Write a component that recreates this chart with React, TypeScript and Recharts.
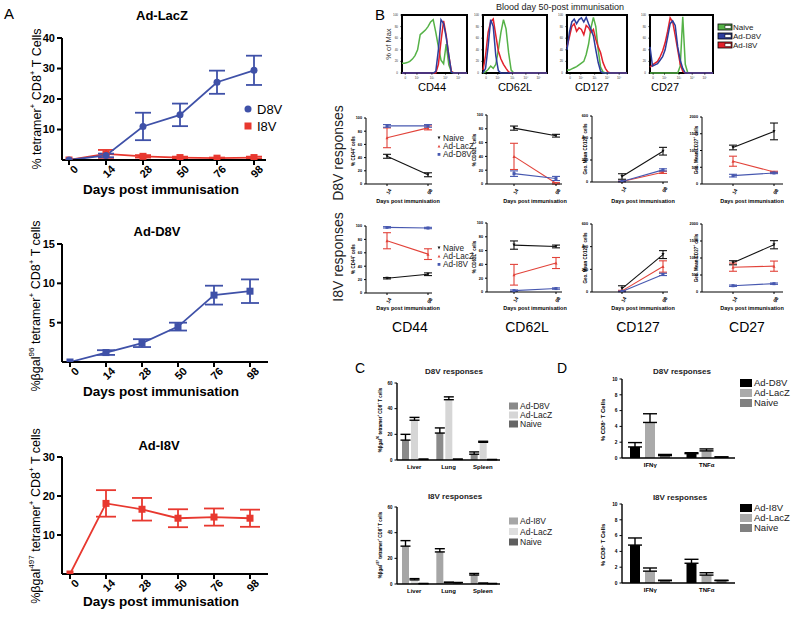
import React from 'react';
import { LineChart, Line, BarChart, Bar, XAxis, YAxis, ErrorBar, ReferenceArea } from 'recharts';

const FONT = '"Liberation Sans", Arial, Helvetica, sans-serif';

// ---------- Panel A: tetramer+ time courses ----------
const aDays = ['0', '14', '28', '50', '76', '98'];
const lacZD8V = [0, 1.5, 11.0, 14.8, 25.5, 29.4];
const lacZD8VErr = [0, 0.6, 4.5, 3.7, 3.8, 4.8];
const lacZI8V = [0, 2.0, 1.2, 0.8, 0.6, 0.8];
const lacZI8VErr = [0, 1.3, 0.4, 0.3, 0.2, 0.3];
const adD8V = [0, 1.2, 2.4, 4.5, 8.5, 9.0];
const adD8VErr = [0, 0.3, 0.5, 0.5, 1.2, 1.5];
const adI8V = [0, 18.1, 16.6, 14.3, 14.6, 14.3];
const adI8VErr = [0, 3.4, 2.9, 2.3, 2.2, 2.2];

// ---------- Panel B: histograms (x = position along axis, y = % of max) ----------
const histBins = [0, 4, 8, 12, 16, 20, 24, 28, 32, 36, 40, 44, 48, 52, 56, 60, 64, 68, 72, 76, 80, 84, 88, 92, 96, 100];
const histXTicks = [5, 23, 46, 67, 87];
const histXLabels = ['0', '10²', '10³', '10⁴', '10⁵'];
const histCd44Naive = [17, 17, 18, 20, 24, 30, 40, 66, 70, 74, 80, 88, 92, 70, 45, 22, 16, 50, 14, 2, 0, 0, 0, 0, 0, 0];
const histCd44D8V = [0, 0, 0, 0, 0, 0, 0, 0, 0, 0, 0, 0, 0, 3, 40, 92, 85, 62, 30, 1, 0, 0, 0, 0, 0, 0];
const histCd44I8V = [0, 0, 0, 0, 0, 0, 0, 0, 0, 0, 0, 0, 0, 0, 15, 55, 90, 65, 30, 3, 0, 0, 0, 0, 0, 0];
const histCd62lNaive = [0, 2, 6, 12, 8, 15, 40, 70, 92, 76, 35, 5, 0, 0, 0, 0, 0, 0, 0, 0, 0, 0, 0, 0, 0, 0];
const histCd62lD8V = [0, 8, 46, 92, 80, 30, 4, 0, 0, 0, 0, 0, 0, 0, 0, 0, 0, 0, 0, 0, 0, 0, 0, 0, 0, 0];
const histCd62lI8V = [5, 30, 70, 88, 93, 65, 38, 24, 15, 8, 2, 0, 0, 0, 0, 0, 0, 0, 0, 0, 0, 0, 0, 0, 0, 0];
const histCd127Naive = [5, 5, 7, 9, 11, 14, 17, 20, 32, 50, 78, 96, 80, 40, 10, 2, 0, 0, 0, 0, 0, 0, 0, 0, 0, 0];
const histCd127D8V = [40, 70, 88, 93, 85, 92, 95, 88, 96, 85, 75, 64, 40, 18, 3, 0, 0, 0, 0, 0, 0, 0, 0, 0, 0, 0];
const histCd127I8V = [45, 62, 80, 85, 72, 78, 75, 66, 82, 78, 70, 75, 58, 45, 35, 18, 8, 2, 0, 0, 0, 0, 0, 0, 0, 0];
const histCd27Naive = [0, 0, 0, 0, 0, 0, 0, 0, 0, 0, 0, 0, 12, 97, 15, 0, 0, 0, 0, 0, 0, 0, 0, 0, 0, 0];
const histCd27D8V = [45, 12, 14, 16, 22, 28, 40, 62, 85, 90, 82, 45, 22, 8, 0, 0, 0, 0, 0, 0, 0, 0, 0, 0, 0, 0];
const histCd27I8V = [10, 14, 17, 20, 28, 38, 52, 72, 95, 88, 65, 40, 15, 3, 0, 0, 0, 0, 0, 0, 0, 0, 0, 0, 0, 0];

// ---------- Panel B: day 14 / day 98 phenotype (rows: Naive, Ad-LacZ, vaccine) ----------
const bDays = ['14', '98'];
const cd44D8V = [[42, 14], [70, 85], [88, 88]];
const cd44D8VErr = [[3, 3], [15, 3], [2, 2]];
const cd62lD8V = [[81, 70], [40, 1], [15, 8]];
const cd62lD8VErr = [[3, 2], [19, 1], [4, 3]];
const cd127D8V = [[50, 280], [5, 88], [5, 110]];
const cd127D8VErr = [[25, 35], [3, 10], [3, 10]];
const cd27D8V = [[1090, 1570], [680, 360], [250, 330]];
const cd27D8VErr = [[70, 250], [150, 20], [40, 20]];
const cd44I8V = [[22, 28], [78, 58], [98, 97]];
const cd44I8VErr = [[1, 2], [12, 8], [1, 1]];
const cd62lI8V = [[68, 66], [25, 42], [2, 5]];
const cd62lI8VErr = [[6, 2], [15, 8], [1, 1]];
const cd127I8V = [[30, 330], [10, 225], [5, 155]];
const cd127I8VErr = [[25, 35], [5, 50], [3, 10]];
const cd27I8V = [[860, 1390], [730, 760], [185, 245]];
const cd27I8VErr = [[60, 120], [120, 150], [20, 20]];

// ---------- Panel C: organs (rows: vaccine, Ad-LacZ, Naive) ----------
const organs = ['Liver', 'Lung', 'Spleen'];
const cD8V = [[15.5, 21, 4.5], [31, 47, 13.8], [0.5, 0.5, 0.3]];
const cD8VErr = [[4.5, 4, 1.8], [2.2, 2.2, 0.8], [0.2, 0.2, 0.1]];
const cI8V = [[29.5, 25, 7], [3.2, 1, 0.5], [0.3, 1, 0.3]];
const cI8VErr = [[4.3, 2.5, 1.2], [1, 0.5, 0.2], [0.1, 0.2, 0.1]];

// ---------- Panel D: cytokines (rows: vaccine, Ad-LacZ, Naive) ----------
const cytokines = ['IFNγ', 'TNFα'];
const dD8V = [[1.4, 0.55], [4.5, 0.9], [0.3, 0.1]];
const dD8VErr = [[0.55, 0.12], [1.1, 0.25], [0.15, 0.05]];
const dI8V = [[4.8, 2.5], [1.5, 1.0], [0.3, 0.3]];
const dI8VErr = [[0.9, 0.5], [0.4, 0.3], [0.05, 0.05]];

const BLUE = '#3f51a8';
const RED = '#e8382f';
const BLK = '#111';
const BRED = '#e2433a';
const BBLUE = '#4758b0';
const HGREEN = '#55b247';
const HBLUE = '#2d3d9c';
const HRED = '#e2202b';

type Rect = { x0: number; y0: number; x1: number; y1: number };

function box(r: Rect, yw: number, xh: number, mt: number, mr: number) {
  return {
    position: 'absolute' as const,
    left: r.x0 - yw,
    top: r.y0 - mt,
    width: yw + r.x1 - r.x0 + mr,
    height: mt + r.y1 - r.y0 + xh,
  };
}

const mark = (shape: string, color: string, s: number) => (p: any) => {
  const { cx, cy, index } = p;
  const k = `m${index}`;
  if (cx == null || cy == null) return <g key={k} />;
  if (shape === 'circle') return <circle key={k} cx={cx} cy={cy} r={s} fill={color} />;
  if (shape === 'square') return <rect key={k} x={cx - s} y={cy - s} width={2 * s} height={2 * s} fill={color} />;
  if (shape === 'up') return <path key={k} d={`M${cx},${cy - s}L${cx + s},${cy + s}L${cx - s},${cy + s}Z`} fill={color} />;
  return <path key={k} d={`M${cx - s},${cy - s}L${cx + s},${cy - s}L${cx},${cy + s}Z`} fill={color} />;
};

type Series = { values: number[]; errs: number[]; color: string; shape: string };

function TrendChart(props: {
  rect: Rect; cats: string[]; domain: [number, number]; ticks: number[]; series: Series[];
  padL: number; padR: number; axisW: number; tickFs: number; xTickFs: number; angle: number;
  tickLen: number; capW: number; dotR: number; lineW: number; yw: number; xh: number;
  tdx: number; tdy: number;
}) {
  const { rect, cats, series } = props;
  const mt = 6, mr = 6;
  const st = box(rect, props.yw, props.xh, mt, mr);
  const data = cats.map((c, i) => {
    const row: any = { cat: c };
    series.forEach((s, j) => { row['v' + j] = s.values[i]; row['e' + j] = s.errs[i]; });
    return row;
  });
  const xTick = (p: any) => {
    const x = p.x + props.tdx, y = p.y + props.tdy;
    return (
      <text x={x} y={y} transform={`rotate(${props.angle} ${x} ${y})`} textAnchor="end" dominantBaseline="central"
        fontSize={props.xTickFs} fontWeight="bold" fontFamily={FONT} fill="#000">{p.payload.value}</text>
    );
  };
  const ax = { stroke: '#000', strokeWidth: props.axisW };
  return (
    <div style={st}>
      <LineChart width={st.width} height={st.height} data={data} margin={{ top: mt, right: mr, left: 0, bottom: 0 }}>
        <XAxis dataKey="cat" interval={0} padding={{ left: props.padL, right: props.padR }} axisLine={ax} tickLine={ax}
          tickSize={props.tickLen} height={props.xh} tick={xTick} />
        <YAxis width={props.yw} domain={props.domain} ticks={props.ticks} interval={0} allowDataOverflow axisLine={ax}
          tickLine={ax} tickSize={props.tickLen}
          tick={{ fontSize: props.tickFs, fontWeight: 'bold', fill: '#000', fontFamily: FONT }} />
        {series.map((s, j) => (
          <Line key={j} type="linear" dataKey={'v' + j} stroke={s.color} strokeWidth={props.lineW}
            dot={mark(s.shape, s.color, props.dotR)} activeDot={false} isAnimationActive={false}>
            <ErrorBar dataKey={'e' + j} width={props.capW} stroke={s.color} strokeWidth={props.lineW} direction="y" isAnimationActive={false} />
          </Line>
        ))}
      </LineChart>
    </div>
  );
}

function Histogram({ rect, naive, d8v, i8v }: { rect: Rect; naive: number[]; d8v: number[]; i8v: number[] }) {
  const yw = 9, xh = 9, mt = 2, mr = 2;
  const st = box(rect, yw, xh, mt, mr);
  const data = histBins.map((b, i) => ({ x: b, n: naive[i], d: d8v[i], i: i8v[i] }));
  const tk = { fontSize: 3, fill: '#333', fontFamily: FONT };
  return (
    <div style={st}>
      <LineChart width={st.width} height={st.height} data={data} margin={{ top: mt, right: mr, left: 0, bottom: 0 }}>
        <XAxis dataKey="x" type="number" domain={[0, 100]} ticks={histXTicks} interval={0} height={xh}
          axisLine={false} tickLine={{ stroke: '#000', strokeWidth: 0.5 }} tickSize={2}
          tick={tk} tickFormatter={(v: number) => histXLabels[histXTicks.indexOf(v)]} />
        <YAxis width={yw} domain={[0, 100]} ticks={[0, 20, 40, 60, 80, 100]} interval={0} axisLine={false}
          tickLine={{ stroke: '#000', strokeWidth: 0.5 }} tickSize={2} tick={tk} />
        <Line type="linear" dataKey="n" stroke={HGREEN} strokeWidth={1.5} dot={false} activeDot={false} isAnimationActive={false} />
        <Line type="linear" dataKey="i" stroke={HRED} strokeWidth={1.5} dot={false} activeDot={false} isAnimationActive={false} />
        <Line type="linear" dataKey="d" stroke={HBLUE} strokeWidth={1.5} dot={false} activeDot={false} isAnimationActive={false} />
        <ReferenceArea x1={0} x2={100} y1={0} y2={100} fill="none" stroke="#000" strokeWidth={2} ifOverflow="visible" />
      </LineChart>
    </div>
  );
}

function BarPanel(props: {
  rect: Rect; cats: string[]; values: number[][]; errs: number[][]; colors: string[];
  domain: [number, number]; ticks: number[]; barSize: number; barGap: number; capW: number;
  tickFs: number; catFs: number;
}) {
  const yw = 14, xh = 12, mt = 6, mr = 4;
  const st = box(props.rect, yw, xh, mt, mr);
  const data = props.cats.map((c, i) => {
    const row: any = { cat: c };
    props.values.forEach((v, j) => { row['v' + j] = v[i]; row['e' + j] = [0, props.errs[j][i]]; });
    return row;
  });
  const ax = { stroke: '#000', strokeWidth: 1.4 };
  return (
    <div style={st}>
      <BarChart width={st.width} height={st.height} data={data} margin={{ top: mt, right: mr, left: 0, bottom: 0 }}
        barSize={props.barSize} barGap={props.barGap}>
        <XAxis dataKey="cat" interval={0} axisLine={ax} tickLine={false} tickSize={3} height={xh}
          tick={{ fontSize: props.catFs, fontWeight: 'bold', fill: '#000', fontFamily: FONT }} />
        <YAxis width={yw} domain={props.domain} ticks={props.ticks} interval={0} axisLine={ax}
          tickLine={{ stroke: '#000', strokeWidth: 1 }} tickSize={2.5}
          tick={{ fontSize: props.tickFs, fontWeight: 'bold', fill: '#000', fontFamily: FONT }} />
        {props.values.map((_, j) => (
          <Bar key={j} dataKey={'v' + j} fill={props.colors[j]} isAnimationActive={false}>
            <ErrorBar dataKey={'e' + j} width={props.capW} stroke="#000" strokeWidth={1.4} direction="y" isAnimationActive={false} />
          </Bar>
        ))}
      </BarChart>
    </div>
  );
}

// text with superscripts: parts alternate [text, isSup]
function Rich({ x, y, fs, bold, rot, parts, fill }: { x: number; y: number; fs: number; bold?: boolean; rot?: number; parts: [string, boolean][]; fill?: string }) {
  let shift = 0;
  return (
    <text x={x} y={y} fontSize={fs} fontWeight={bold ? 'bold' : 'normal'} textAnchor="middle" fontFamily={FONT}
      fill={fill || '#000'} transform={rot ? `rotate(${rot} ${x} ${y})` : undefined} dominantBaseline={rot ? 'central' : undefined}>
      {parts.map(([t, s], i) => {
        const target = s ? -fs * 0.4 : 0;
        const dy = target - shift;
        shift = target;
        return <tspan key={i} dy={dy} fontSize={s ? fs * 0.65 : fs}>{t}</tspan>;
      })}
    </text>
  );
}

const T = (p: { x: number; y: number; fs: number; bold?: boolean; anchor?: string; rot?: number; children: React.ReactNode; fill?: string }) => (
  <text x={p.x} y={p.y} fontSize={p.fs} fontWeight={p.bold ? 'bold' : 'normal'} textAnchor={(p.anchor || 'middle') as any}
    fontFamily={FONT} fill={p.fill || '#000'} transform={p.rot ? `rotate(${p.rot} ${p.x} ${p.y})` : undefined}
    dominantBaseline={p.rot ? 'central' : undefined}>{p.children}</text>
);

function SmallLegend({ x, y, names, colors, shapes }: { x: number; y: number; names: string[]; colors: string[]; shapes: string[] }) {
  return (
    <g>
      {names.map((n, i) => {
        const cy = y + i * 8.2;
        const cx = x;
        const s = 1.4;
        const shape = shapes[i];
        return (
          <g key={n}>
            {shape === 'square' ? <rect x={cx - s} y={cy - s} width={2 * s} height={2 * s} fill={colors[i]} />
              : shape === 'up' ? <path d={`M${cx},${cy - s}L${cx + s},${cy + s}L${cx - s},${cy + s}Z`} fill={colors[i]} />
                : <path d={`M${cx - s},${cy - s}L${cx + s},${cy - s}L${cx},${cy + s}Z`} fill={colors[i]} />}
            <text x={x + 4} y={cy + 3} fontSize={8.2} fontFamily={FONT} fill="#222">{n}</text>
          </g>
        );
      })}
    </g>
  );
}

function BoxLegend({ x, y, names, colors, fs, step, w, h }: { x: number; y: number; names: string[]; colors: string[]; fs: number; step: number; w: number; h: number }) {
  return (
    <g>
      {names.map((n, i) => (
        <g key={n}>
          <rect x={x} y={y + i * step - h / 2} width={w} height={h} fill={colors[i]} />
          <text x={x + w + 2} y={y + i * step + fs * 0.36} fontSize={fs} fontFamily={FONT} fill="#222">{n}</text>
        </g>
      ))}
    </g>
  );
}

function App() {
  const aCommon = { cats: aDays, axisW: 2, tickFs: 11, xTickFs: 11, angle: -45, tickLen: 5, dotR: 3.5, lineW: 1.8, yw: 30, xh: 30, tdx: 7, tdy: 0 };
  const bCommon = { cats: bDays, axisW: 1, tickFs: 3.8, xTickFs: 5, angle: -60, tickLen: 2, capW: 4, dotR: 1.5, lineW: 1.1, yw: 14, xh: 14, tdx: 3, tdy: 1 };
  const bSeries = (v: number[][], e: number[][]): Series[] => [
    { values: v[0], errs: e[0], color: BLK, shape: 'down' },
    { values: v[1], errs: e[1], color: BRED, shape: 'up' },
    { values: v[2], errs: e[2], color: BBLUE, shape: 'square' },
  ];
  const pct = [0, 20, 40, 60, 80, 100];
  const g127 = [0, 200, 400, 600];
  const g27 = [0, 500, 1000, 1500, 2000];

  return (
    <div style={{ position: 'absolute', left: 0, top: 0, width: 800, height: 617, background: '#fff', overflow: 'hidden', fontFamily: FONT }}>
      {/* Panel A */}
      <TrendChart {...aCommon} rect={{ x0: 62, y0: 38, x1: 266, y1: 160 }} domain={[0, 40]} ticks={[10, 20, 30, 40]}
        padL={7} padR={12} capW={8}
        series={[
          { values: lacZI8V, errs: lacZI8VErr, color: RED, shape: 'square' },
          { values: lacZD8V, errs: lacZD8VErr, color: BLUE, shape: 'circle' },
        ]} />
      <TrendChart {...aCommon} rect={{ x0: 62, y0: 244, x1: 268, y1: 362 }} domain={[0, 15]} ticks={[5, 10, 15]}
        padL={8} padR={18} capW={9}
        series={[{ values: adD8V, errs: adD8VErr, color: BLUE, shape: 'square' }]} />
      <TrendChart {...aCommon} rect={{ x0: 62, y0: 457, x1: 268, y1: 574 }} domain={[0, 30]} ticks={[10, 20, 30]}
        padL={8} padR={18} capW={10}
        series={[{ values: adI8V, errs: adI8VErr, color: RED, shape: 'square' }]} />

      {/* Panel B histograms */}
      <Histogram rect={{ x0: 402, y0: 15, x1: 467, y1: 73 }} naive={histCd44Naive} d8v={histCd44D8V} i8v={histCd44I8V} />
      <Histogram rect={{ x0: 483, y0: 15, x1: 547, y1: 73 }} naive={histCd62lNaive} d8v={histCd62lD8V} i8v={histCd62lI8V} />
      <Histogram rect={{ x0: 567, y0: 15, x1: 627, y1: 73 }} naive={histCd127Naive} d8v={histCd127D8V} i8v={histCd127I8V} />
      <Histogram rect={{ x0: 650, y0: 15, x1: 713, y1: 73 }} naive={histCd27Naive} d8v={histCd27D8V} i8v={histCd27I8V} />

      {/* Panel B phenotype, D8V row */}
      <TrendChart {...bCommon} rect={{ x0: 366, y0: 118, x1: 432, y1: 184 }} domain={[0, 100]} ticks={pct} padL={21} padR={4} series={bSeries(cd44D8V, cd44D8VErr)} />
      <TrendChart {...bCommon} rect={{ x0: 487, y0: 115, x1: 562, y1: 184 }} domain={[0, 100]} ticks={pct} padL={27} padR={6} series={bSeries(cd62lD8V, cd62lD8VErr)} />
      <TrendChart {...bCommon} rect={{ x0: 592, y0: 116, x1: 668, y1: 182 }} domain={[0, 600]} ticks={g127} padL={30} padR={5} series={bSeries(cd127D8V, cd127D8VErr)} />
      <TrendChart {...bCommon} rect={{ x0: 702, y0: 117, x1: 783, y1: 184 }} domain={[0, 2000]} ticks={g27} padL={31} padR={9} series={bSeries(cd27D8V, cd27D8VErr)} />
      {/* Panel B phenotype, I8V row */}
      <TrendChart {...bCommon} rect={{ x0: 366, y0: 226, x1: 432, y1: 293 }} domain={[0, 100]} ticks={pct} padL={21} padR={4} series={bSeries(cd44I8V, cd44I8VErr)} />
      <TrendChart {...bCommon} rect={{ x0: 487, y0: 223, x1: 562, y1: 292 }} domain={[0, 100]} ticks={pct} padL={27} padR={6} series={bSeries(cd62lI8V, cd62lI8VErr)} />
      <TrendChart {...bCommon} rect={{ x0: 592, y0: 224, x1: 668, y1: 292 }} domain={[0, 600]} ticks={g127} padL={30} padR={5} series={bSeries(cd127I8V, cd127I8VErr)} />
      <TrendChart {...bCommon} rect={{ x0: 702, y0: 224, x1: 783, y1: 292 }} domain={[0, 2000]} ticks={g27} padL={31} padR={9} series={bSeries(cd27I8V, cd27I8VErr)} />

      {/* Panel C */}
      <BarPanel rect={{ x0: 397, y0: 383, x1: 500, y1: 460 }} cats={organs} values={cD8V} errs={cD8VErr}
        colors={['#8a8a8a', '#d6d6d6', '#666666']} domain={[0, 60]} ticks={[0, 20, 40, 60]} barSize={7} barGap={2} capW={5} tickFs={4.5} catFs={6} />
      <BarPanel rect={{ x0: 397, y0: 507, x1: 500, y1: 584 }} cats={organs} values={cI8V} errs={cI8VErr}
        colors={['#a6a6a6', '#dedede', '#5e5e5e']} domain={[0, 60]} ticks={[0, 20, 40, 60]} barSize={7} barGap={2} capW={5} tickFs={4.5} catFs={6} />

      {/* Panel D */}
      <BarPanel rect={{ x0: 622, y0: 379, x1: 735, y1: 458 }} cats={cytokines} values={dD8V} errs={dD8VErr}
        colors={['#000000', '#aaaaaa', '#808080']} domain={[0, 10]} ticks={[0, 2, 4, 6, 8, 10]} barSize={10} barGap={5} capW={7} tickFs={4.8} catFs={6} />
      <BarPanel rect={{ x0: 622, y0: 504, x1: 735, y1: 583 }} cats={cytokines} values={dI8V} errs={dI8VErr}
        colors={['#000000', '#aaaaaa', '#808080']} domain={[0, 10]} ticks={[0, 2, 4, 6, 8, 10]} barSize={10} barGap={5} capW={7} tickFs={4.8} catFs={6} />

      {/* text and legends */}
      <svg width={800} height={617} style={{ position: 'absolute', left: 0, top: 0, pointerEvents: 'none' }}>
        {/* A */}
        <T x={4} y={19} fs={15} anchor="start">A</T>
        <T x={162} y={20} fs={13} bold>Ad-LacZ</T>
        <T x={157} y={236} fs={13} bold>Ad-D8V</T>
        <T x={159} y={450} fs={13} bold>Ad-I8V</T>
        {[194, 396, 606].map((y, i) => (
          <T key={i} x={161} y={y} fs={13.5} bold>Days post immunisation</T>
        ))}
        <Rich x={37} y={99} fs={12.5} rot={-90} parts={[['% tetramer', false], ['+', true], [' CD8', false], ['+', true], [' T Cells', false]]} />
        <Rich x={36} y={306} fs={12.5} rot={-90} parts={[['%βgal', false], ['96', true], [' tetramer', false], ['+', true], [' CD8', false], ['+', true], [' T cells', false]]} />
        <Rich x={36} y={516} fs={12.5} rot={-90} parts={[['%βgal', false], ['497', true], [' tetramer', false], ['+', true], [' CD8', false], ['+', true], [' T cells', false]]} />
        <circle cx={248} cy={109} r={3.5} fill={BLUE} />
        <T x={257} y={114} fs={13} anchor="start">D8V</T>
        <rect x={244.5} y={122.5} width={7} height={7} fill={RED} />
        <T x={257} y={131} fs={13} anchor="start">I8V</T>

        {/* B */}
        <T x={375} y={20} fs={15} anchor="start">B</T>
        <T x={560} y={10} fs={9} fill="#222">Blood day 50-post immunisation</T>
        <T x={388} y={44} fs={7.5} rot={-90} fill="#333">% of Max</T>
        <T x={432} y={91} fs={11}>CD44</T>
        <T x={515} y={91} fs={11}>CD62L</T>
        <T x={592} y={91} fs={11}>CD127</T>
        <T x={665} y={91} fs={11}>CD27</T>
        {[['Naive', HGREEN], ['Ad-D8V', HBLUE], ['Ad-I8V', HRED]].map(([n, c], i) => (
          <g key={n}>
            <rect x={718} y={24 + i * 9} width={14} height={6} fill={c} stroke="#000" strokeWidth={0.8} />
            <rect x={725} y={25.5 + i * 9} width={6} height={3} fill="#fff" stroke="#000" strokeWidth={0.5} />
            <T x={733} y={30 + i * 9} fs={8} anchor="start" fill="#222">{n}</T>
          </g>
        ))}
        <T x={338} y={153} fs={14} rot={-90} fill="#222">D8V responses</T>
        <T x={338} y={257} fs={14} rot={-90} fill="#222">I8V responses</T>
        {[151, 259].map((y, i) => <Rich key={'a' + i} x={353} y={y} fs={4.5} bold rot={-90} parts={[['% CD44', false], ['+', true], [' cells', false]]} />)}
        {[150, 257].map((y, i) => <Rich key={'b' + i} x={474} y={y} fs={4.5} bold rot={-90} parts={[['% CD62L', false], ['+', true], [' cells', false]]} />)}
        {[149, 258].map((y, i) => <Rich key={'c' + i} x={585} y={y} fs={4.5} bold rot={-90} parts={[['Geo. Mean CD127', false], ['+', true], [' cells', false]]} />)}
        {[150, 258].map((y, i) => <Rich key={'d' + i} x={696} y={y} fs={4.5} bold rot={-90} parts={[['Geo. Mean CD27', false], ['+', true], [' cells', false]]} />)}
        {[203, 310].map((y) => [408, 535, 643, 752].map((x) => (
          <T key={`${x}-${y}`} x={x} y={y} fs={5.5} bold>Days post immunisation</T>
        )))}
        <SmallLegend x={439} y={138} names={['Naive', 'Ad-LacZ', 'Ad-D8V']} colors={[BLK, BRED, BBLUE]} shapes={['down', 'up', 'square']} />
        <SmallLegend x={439} y={248} names={['Naive', 'Ad-LacZ', 'Ad-I8V']} colors={[BLK, BRED, BBLUE]} shapes={['down', 'up', 'square']} />
        <T x={410} y={332} fs={14}>CD44</T>
        <T x={527} y={332} fs={14}>CD62L</T>
        <T x={638} y={332} fs={14}>CD127</T>
        <T x={747} y={332} fs={14}>CD27</T>

        {/* C */}
        <T x={355} y={373} fs={14} anchor="start">C</T>
        <T x={454} y={374} fs={8} bold fill="#222">D8V responses</T>
        <T x={455} y={499} fs={8} bold fill="#222">I8V responses</T>
        <Rich x={380} y={420} fs={4.5} bold rot={-90} parts={[['%βgal', false], ['96', true], [' tetramer', false], ['+', true], [' CD8', false], ['+', true], [' T cells', false]]} />
        <Rich x={380} y={545} fs={4.5} bold rot={-90} parts={[['%βgal', false], ['497', true], [' tetramer', false], ['+', true], [' CD8', false], ['+', true], [' T cells', false]]} />
        <BoxLegend x={509} y={406} names={['Ad-D8V', 'Ad-LacZ', 'Naive']} colors={['#8a8a8a', '#d6d6d6', '#666666']} fs={8.5} step={9} w={9} h={7} />
        <BoxLegend x={509} y={521} names={['Ad-I8V', 'Ad-LacZ', 'Naive']} colors={['#a6a6a6', '#dedede', '#5e5e5e']} fs={8.5} step={10.5} w={9} h={7} />

        {/* D */}
        <T x={557} y={373} fs={14} anchor="start">D</T>
        <T x={682} y={374} fs={8} bold fill="#222">D8V responses</T>
        <T x={680} y={500} fs={8} bold fill="#222">I8V responses</T>
        <Rich x={603} y={420} fs={6} bold rot={-90} parts={[['% CD8', false], ['+', true], [' T Cells', false]]} />
        <Rich x={603} y={545} fs={6} bold rot={-90} parts={[['% CD8', false], ['+', true], [' T Cells', false]]} />
        <BoxLegend x={740} y={383} names={['Ad-D8V', 'Ad-LacZ', 'Naive']} colors={['#000000', '#aaaaaa', '#808080']} fs={9.5} step={10} w={12} h={8} />
        <BoxLegend x={740} y={508} names={['Ad-I8V', 'Ad-LacZ', 'Naive']} colors={['#000000', '#aaaaaa', '#808080']} fs={9.5} step={10} w={12} h={8} />
      </svg>
    </div>
  );
}

export default App;
